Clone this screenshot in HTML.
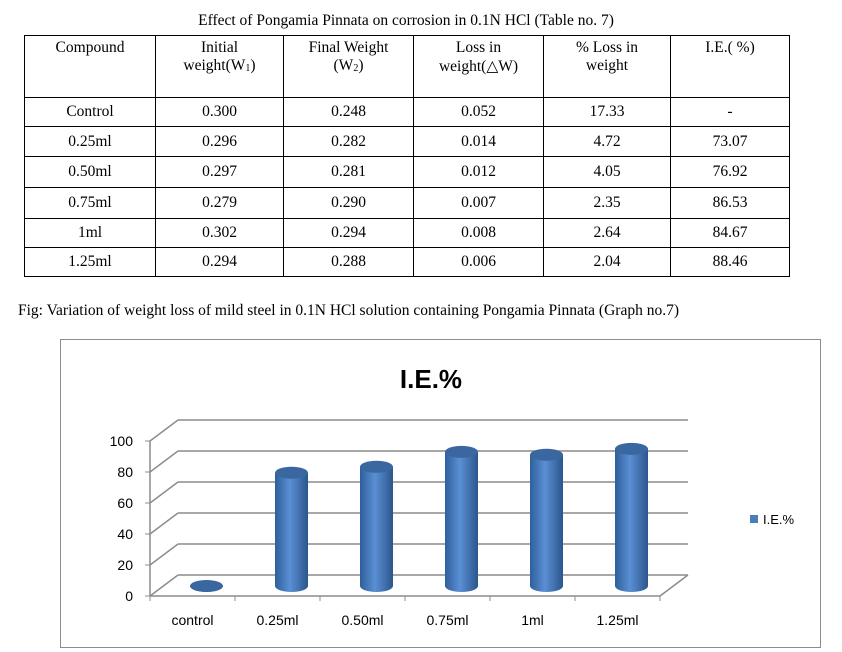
<!DOCTYPE html>
<html><head><meta charset="utf-8"><style>
body{margin:0;width:842px;height:652px;background:#fff;position:relative;font-family:"Liberation Serif",serif;overflow:hidden}
.t{position:absolute;white-space:nowrap;color:#000}
table{position:absolute;left:24px;top:35px;border-collapse:collapse;font-size:15.5px}
td{border:1px solid #000;text-align:center;padding:0;vertical-align:middle}
</style></head><body>
<div class="t" style="left:0;width:812px;text-align:center;top:12px;font-size:15.5px">Effect of Pongamia Pinnata on corrosion in 0.1N HCl (Table no. 7)</div>
<table>
<colgroup><col style="width:131px"><col style="width:128px"><col style="width:130px"><col style="width:130px"><col style="width:127px"><col style="width:119px"></colgroup>
<tr style="height:62px"><td style="vertical-align:top;padding-top:3px">Compound</td><td style="vertical-align:top;padding-top:3px">Initial<br>weight(W<sub style="font-size:10px;vertical-align:-1px">1</sub>)</td><td style="vertical-align:top;padding-top:3px">Final Weight<br>(W<sub style="font-size:10px;vertical-align:-1px">2</sub>)</td><td style="vertical-align:top;padding-top:3px">Loss in<br>weight(△W)</td><td style="vertical-align:top;padding-top:3px">% Loss in<br>weight</td><td style="vertical-align:top;padding-top:3px">I.E.( %)</td></tr>
<tr style="height:29px"><td>Control</td><td>0.300</td><td>0.248</td><td>0.052</td><td>17.33</td><td>-</td></tr>
<tr style="height:30px"><td>0.25ml</td><td>0.296</td><td>0.282</td><td>0.014</td><td>4.72</td><td>73.07</td></tr>
<tr style="height:31px"><td>0.50ml</td><td>0.297</td><td>0.281</td><td>0.012</td><td>4.05</td><td>76.92</td></tr>
<tr style="height:31px"><td>0.75ml</td><td>0.279</td><td>0.290</td><td>0.007</td><td>2.35</td><td>86.53</td></tr>
<tr style="height:29px"><td>1ml</td><td>0.302</td><td>0.294</td><td>0.008</td><td>2.64</td><td>84.67</td></tr>
<tr style="height:29px"><td>1.25ml</td><td>0.294</td><td>0.288</td><td>0.006</td><td>2.04</td><td>88.46</td></tr>
</table>
<div class="t" style="left:18px;top:302px;font-size:15.5px">Fig: Variation of weight loss of mild steel in 0.1N HCl solution containing Pongamia Pinnata (Graph no.7)</div>
<svg id="chart" width="842" height="652" style="position:absolute;left:0;top:0">
<defs><linearGradient id="cyl" x1="0" x2="1"><stop offset="0" stop-color="#2f5f9c"/><stop offset="0.45" stop-color="#5a8fd4"/><stop offset="1" stop-color="#2c568c"/></linearGradient></defs>
<rect x="60.5" y="339.5" width="760" height="308" fill="#fff" stroke="#8c8c8c"/>
<text x="431" y="388" text-anchor="middle" font-family="Liberation Sans,sans-serif" font-weight="bold" font-size="26">I.E.%</text>
<g id="g"></g>
<rect x="750" y="515" width="8" height="8" fill="#4a7ebb"/>
<text x="763" y="524" font-family="Liberation Sans,sans-serif" font-size="13">I.E.%</text>
</svg>
<script>
const categories=["control","0.25ml","0.50ml","0.75ml","1ml","1.25ml"];
const ieValues=[0,73.07,76.92,86.53,84.67,88.46];
const yTicks=[0,20,40,60,80,100];
const NS="http://www.w3.org/2000/svg",g=document.getElementById('g');
function mk(t,a){const e=document.createElementNS(NS,t);for(const k in a)e.setAttribute(k,a[k]);g.appendChild(e);return e;}
const fx=150,fy=596,k=1.55,dx=28,dy=-21,w=510,step=85;
const yF=v=>fy-v*k, xC=i=>fx+step*(i+0.5);
// gridlines / walls
yTicks.forEach(v=>{
 const l1=mk('line',{x1:fx,y1:yF(v),x2:fx+dx,y2:yF(v)+dy,stroke:'#8c8c8c','stroke-width':1.5});
 
 const l2=mk('line',{x1:fx+dx,y1:yF(v)+dy,x2:fx+dx+w,y2:yF(v)+dy,stroke:'#8c8c8c','stroke-width':1.5});
 
 const t=mk('text',{x:fx-17,y:yF(v)+5,'text-anchor':'end','font-family':'Liberation Sans,sans-serif','font-size':14});
 t.textContent=v;
 const tk=mk('line',{x1:fx-5,y1:yF(v),x2:fx,y2:yF(v),stroke:'#8c8c8c'});
});
mk('line',{x1:fx,y1:fy,x2:fx,y2:yF(100),stroke:'#8c8c8c','stroke-width':1.5});
mk('line',{x1:fx,y1:fy,x2:fx+w,y2:fy,stroke:'#8c8c8c','stroke-width':1.5});
mk('line',{x1:fx+w,y1:fy,x2:fx+w+dx,y2:fy+dy,stroke:'#8c8c8c','stroke-width':1.5});
categories.forEach((c,i)=>{
 mk('line',{x1:fx+step*(i+1),y1:fy,x2:fx+step*(i+1),y2:fy+5,stroke:'#8c8c8c'});
 if(i==0)mk('line',{x1:fx,y1:fy,x2:fx,y2:fy+5,stroke:'#8c8c8c'});
 const t=mk('text',{x:xC(i),y:fy+29,'text-anchor':'middle','font-family':'Liberation Sans,sans-serif','font-size':14});
 t.textContent=c;
});
// bars
const z0=586,r=16.5,ry=6;
ieValues.forEach((v,i)=>{
 const cx=xC(i)+14,top=z0-v*k;
 const b=mk('path',{d:`M${cx-r},${top} L${cx-r},${z0} A${r},${ry} 0 0 0 ${cx+r},${z0} L${cx+r},${top} Z`,fill:'url(#cyl)'});
 
 const e=mk('ellipse',{cx:cx,cy:top,rx:r,ry:ry,fill:'#3a679f'});
 
});
</script>
</body></html>
